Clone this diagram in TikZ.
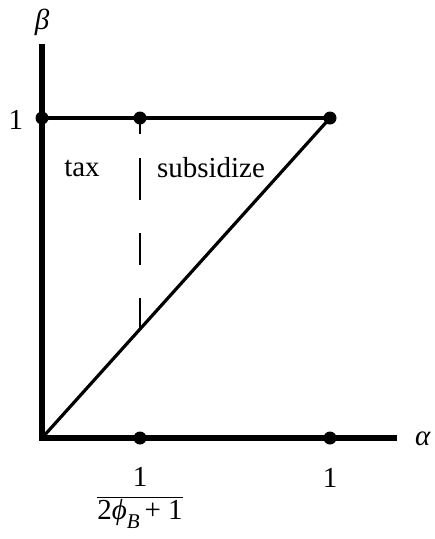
\documentclass[tikz,border=0pt]{standalone}
\usepackage{fontspec}
\setmainfont{Liberation Serif}
\begin{document}
\begin{tikzpicture}[x=1pt,y=-1pt,
  dot/.style={circle,fill=black,inner sep=0pt,minimum size=13pt},
  axis/.style={line width=5.5pt},
  edge/.style={line width=3.2pt},
  dashline/.style={line width=2.6pt,dash pattern=on 16pt off 24pt on 42pt off 33pt on 32pt off 33pt on 40pt off 20pt},
  lab/.style={font=\fontsize{29}{33}\selectfont,inner sep=0pt}]
\useasboundingbox (0,0) rectangle (435,539);
\coordinate (O) at (42,438);
\coordinate (Ytop) at (42,44);
\coordinate (Xend) at (397,438);
\coordinate (M) at (140,329);
\node[dot] (A) at (42,118) {};
\node[dot] (D) at (140,118) {};
\node[dot] (C) at (330,118) {};
\node[dot] (P) at (140,438) {};
\node[dot] (Q) at (330,438) {};
\draw[axis] (Ytop) -- (O.center) -- (Xend);
\draw[edge] (A.center) -- (C.center);
\draw[edge] (O) -- (C.center);
\draw[dashline] (D.center) -- (M);
\node[lab] (beta) at (42,22) {\textit{β}};
\node[lab] (alpha) at (423,439) {\textit{α}};
\node[lab] (one1) at (16,120) {1};
\node[lab,anchor=base] (tax) at (82,176) {tax};
\node[lab,anchor=base] (sub) at (211,177) {subsidize};
\node[lab,anchor=base] (one2) at (330,487) {1};
\node[lab] (frac) at (140,498) {$\displaystyle\frac{\mbox{1}}{\mbox{2\textit{ϕ}\raisebox{-9pt}{\fontsize{21}{23}\selectfont\textit{B}}\,+ 1}}$};
\end{tikzpicture}
\end{document}
